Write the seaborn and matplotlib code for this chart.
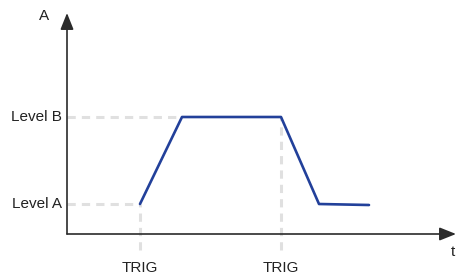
import seaborn as sns
import matplotlib.pyplot as plt
import pandas as pd

# signal timing (t from the axis origin) and amplitude
time = [73, 115, 214, 252, 302]
amplitude = [30, 117, 117, 30, 29]
level_labels = ["Level A", "Level B"]
level_values = [30, 117]
trig_times = [73, 214]

sns.set_style("white")
plt.rcParams['font.family'] = ['Liberation Sans', 'DejaVu Sans']

df = pd.DataFrame({"t": time, "A": amplitude})

fig = plt.figure(figsize=(4.57, 2.75), dpi=100)
ax = fig.add_axes([0, 0, 1, 1])
ax.set_xlim(-67, 390)
ax.set_ylim(-41, 234)
ax.axis("off")

dash_kw = dict(color="#e0e0e0", lw=2.2, ls=(0, (2.7, 2.0)), zorder=1)
# guide lines for levels
ax.plot([0, time[1]], [level_values[1]] * 2, **dash_kw)
ax.plot([0, time[0]], [level_values[0]] * 2, **dash_kw)
# trigger guides
ax.plot([trig_times[0]] * 2, [-16, level_values[0]], **dash_kw)
ax.plot([trig_times[1]] * 2, [-16, level_values[1]], **dash_kw)

# axes with arrows
arrow_kw = dict(arrowstyle="-|>,head_length=1.0,head_width=0.4", color="#2b2b2b", lw=1.2,
                shrinkA=0, shrinkB=0)
ax.annotate("", xy=(0, 221), xytext=(0, 0), arrowprops=arrow_kw)
ax.annotate("", xy=(389, 0), xytext=(0, 0), arrowprops=arrow_kw)

sns.lineplot(data=df, x="t", y="A", ax=ax, color="#22409a", lw=1.9, zorder=3,
             sort=False)

for lab, v in zip(level_labels, level_values):
    ax.text(-5, v, lab, ha="right", va="center", fontsize=11, color="#222222")
for tt in trig_times:
    ax.text(tt, -34, "TRIG", ha="center", va="center", fontsize=11, color="#222222")
ax.text(-23, 218, "A", ha="center", va="center", fontsize=11, color="#222222")
ax.text(384, -18, "t", ha="left", va="center", fontsize=11, color="#222222")

plt.savefig("out.png", dpi=100)
